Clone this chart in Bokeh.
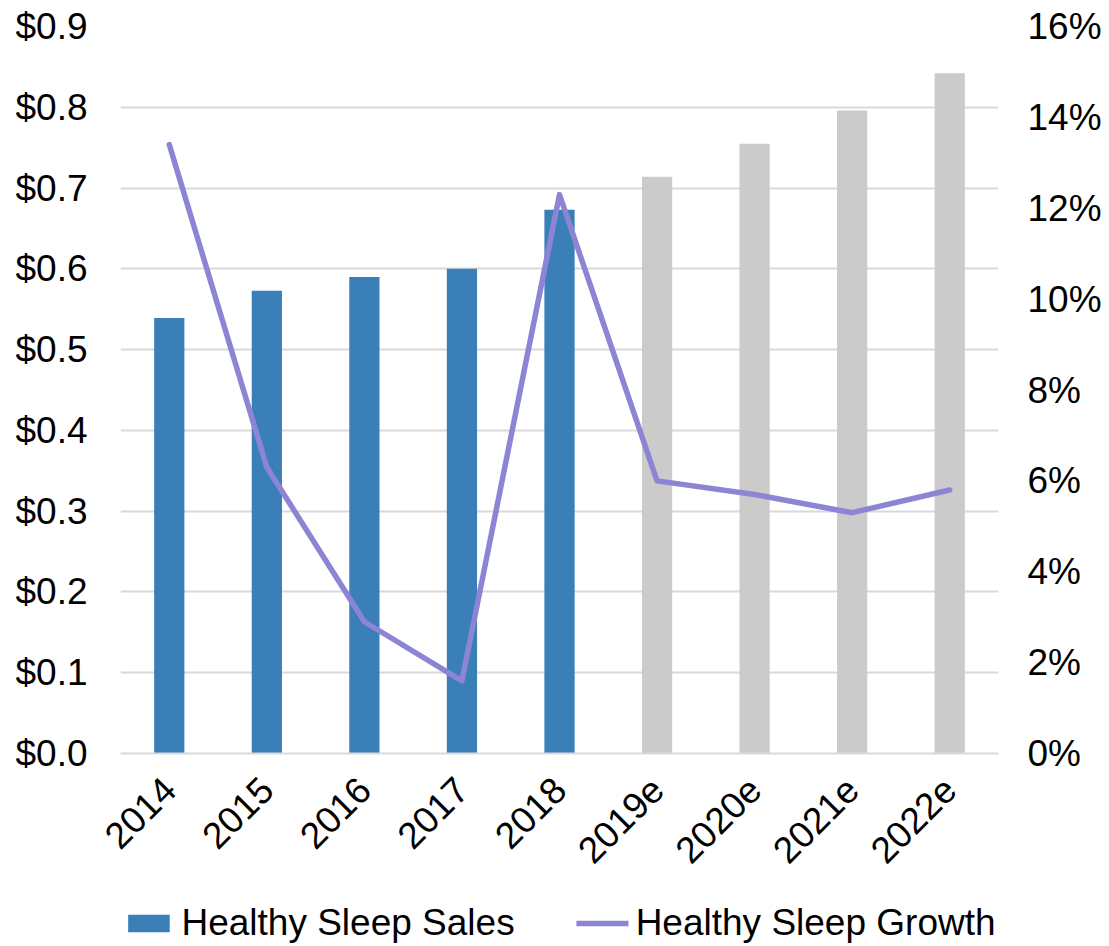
import math

from bokeh.embed import file_html
from bokeh.layouts import column
from bokeh.models import (ColumnDataSource, FactorRange, FixedTicker, Legend,
                          LegendItem, LinearAxis, NumeralTickFormatter, Range1d)
from bokeh.plotting import figure
from bokeh.resources import INLINE

# Healthy sleep category: sales ($B) and year-over-year growth
years = ["2014", "2015", "2016", "2017", "2018", "2019e", "2020e", "2021e", "2022e"]
sales = [0.539, 0.573, 0.590, 0.600, 0.673, 0.714, 0.755, 0.796, 0.842]
growth = [0.134, 0.063, 0.029, 0.016, 0.123, 0.060, 0.057, 0.053, 0.058]
sales_ticks = [0.0, 0.1, 0.2, 0.3, 0.4, 0.5, 0.6, 0.7, 0.8, 0.9]
growth_ticks = [0.0, 0.02, 0.04, 0.06, 0.08, 0.10, 0.12, 0.14, 0.16]

FONT = "Liberation Sans"
FONT_SIZE = "37px"
ACTUAL_BLUE = "#3A7FB8"
ESTIMATE_GREY = "#CBCBCB"
GROWTH_PURPLE = "#8C85D3"
GRID = "#D9D9D9"
LINE_WIDTH = 5.5

bar_colors = [ESTIMATE_GREY if y.endswith("e") else ACTUAL_BLUE for y in years]
source = ColumnDataSource(data=dict(year=years, sales=sales, growth=growth, color=bar_colors))

p = figure(
    width=1109, height=900,
    x_range=FactorRange(*years, range_padding=0),
    y_range=Range1d(0, 0.9),
    output_backend="svg", toolbar_location=None,
    min_border_left=120, min_border_right=111,
    min_border_top=26, min_border_bottom=147,
    outline_line_color=None,
)
p.extra_y_ranges = {"growth": Range1d(0, 0.16)}

p.vbar(x="year", top="sales", width=0.31, color="color", line_color=None, source=source)
p.line(x="year", y="growth", y_range_name="growth", source=source,
       line_color=GROWTH_PURPLE, line_width=LINE_WIDTH, line_join="round", line_cap="round")

# Axes
p.yaxis.ticker = FixedTicker(ticks=sales_ticks)
p.yaxis.formatter = NumeralTickFormatter(format="$0.0")

right = LinearAxis(y_range_name="growth", ticker=FixedTicker(ticks=growth_ticks),
                   formatter=NumeralTickFormatter(format="0%"))
p.add_layout(right, "right")

for ax in (p.yaxis[0], right, p.xaxis[0]):
    ax.axis_line_color = None
    ax.major_tick_line_color = None
    ax.minor_tick_line_color = None
    ax.major_tick_in = 0
    ax.major_tick_out = 0
    ax.major_label_text_font = FONT
    ax.major_label_text_font_size = FONT_SIZE
    ax.major_label_text_color = "#000000"

p.yaxis[0].major_label_standoff = 33
right.major_label_standoff = 29

p.xaxis.axis_line_color = GRID
p.xaxis.axis_line_width = 2
p.xaxis.major_label_orientation = math.pi / 4
p.xaxis.major_label_standoff = 30

p.xgrid.grid_line_color = None
p.ygrid.grid_line_color = GRID
p.ygrid.grid_line_width = 2

# Legend strip under the chart; its swatch glyphs sit outside the visible range
lp = figure(
    width=1109, height=46,
    x_range=Range1d(0, 1), y_range=Range1d(0, 1),
    output_backend="svg", toolbar_location=None,
    x_axis_location=None, y_axis_location=None,
    min_border=0, outline_line_color=None,
)
lp.xgrid.grid_line_color = None
lp.ygrid.grid_line_color = None
sales_swatch = lp.vbar(x=[-10], top=[-10], width=0.1, fill_color=ACTUAL_BLUE, line_color=None)
growth_swatch = lp.line(x=[-10, -9], y=[-10, -10], line_color=GROWTH_PURPLE,
                        line_width=LINE_WIDTH, line_cap="round")

legend = Legend(
    items=[
        LegendItem(label="Healthy Sleep Sales", renderers=[sales_swatch]),
        LegendItem(label="Healthy Sleep Growth", renderers=[growth_swatch]),
    ],
    orientation="horizontal", location="center",
    label_text_font=FONT, label_text_font_size=FONT_SIZE, label_text_color="#000000",
    glyph_width=52, glyph_height=22, label_standoff=7, spacing=62,
    border_line_color=None, background_fill_alpha=0, padding=0, margin=0,
)
lp.add_layout(legend, "center")

open("out.html", "w").write(file_html(column(p, lp, spacing=0), INLINE))
